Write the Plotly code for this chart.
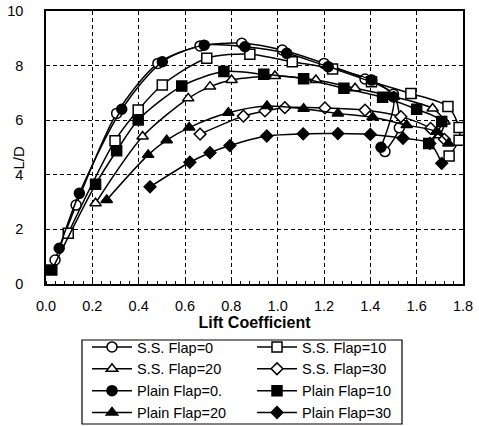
import plotly.graph_objects as go

# ---- data ----
ss0_x = [0.039, 0.13, 0.305, 0.483, 0.665, 0.845, 1.02, 1.20, 1.377, 1.50, 1.525, 1.463]
ss0_y = [0.88, 2.89, 6.25, 8.08, 8.72, 8.82, 8.57, 8.08, 7.51, 6.95, 5.72, 4.85]

ss10_x = [0.096, 0.298, 0.398, 0.502, 0.694, 0.88, 1.063, 1.237, 1.405, 1.575, 1.735, 1.783, 1.783, 1.74]
ss10_y = [1.86, 5.25, 6.37, 7.29, 8.27, 8.42, 8.14, 7.88, 7.41, 6.98, 6.50, 5.73, 5.27, 4.69]

ss20_x = [0.214, 0.417, 0.614, 0.708, 0.801, 0.988, 1.165, 1.334, 1.502, 1.669, 1.72, 1.70]
ss20_y = [2.96, 5.40, 6.80, 7.23, 7.47, 7.62, 7.47, 7.17, 6.86, 6.43, 5.95, 5.45]

ss30_x = [0.665, 0.852, 0.945, 1.031, 1.204, 1.377, 1.532, 1.66, 1.72]
ss30_y = [5.49, 6.15, 6.34, 6.46, 6.45, 6.37, 6.13, 5.70, 5.30]

pl0_x = [0.057, 0.144, 0.327, 0.502, 0.683, 0.859, 1.039, 1.218, 1.406, 1.50, 1.446]
pl0_y = [1.31, 3.32, 6.40, 8.14, 8.75, 8.69, 8.45, 7.96, 7.47, 6.85, 5.01]

pl10_x = [0.025, 0.214, 0.305, 0.398, 0.586, 0.768, 0.940, 1.112, 1.286, 1.453, 1.60, 1.708, 1.652]
pl10_y = [0.51, 3.65, 4.88, 6.01, 7.25, 7.78, 7.68, 7.52, 7.17, 6.84, 6.40, 5.95, 5.15]

pl20_x = [0.262, 0.441, 0.521, 0.618, 0.787, 0.954, 1.112, 1.260, 1.41, 1.557, 1.686, 1.737]
pl20_y = [3.08, 4.73, 5.27, 5.73, 6.27, 6.52, 6.42, 6.25, 6.11, 5.82, 5.58, 5.15]

pl30_x = [0.449, 0.621, 0.708, 0.794, 0.953, 1.11, 1.26, 1.40, 1.541, 1.657, 1.708]
pl30_y = [3.56, 4.46, 4.81, 5.07, 5.42, 5.50, 5.51, 5.48, 5.34, 5.15, 4.42]

series = [
    ("S.S. Flap=0", ss0_x, ss0_y, "circle-open", 10),
    ("S.S. Flap=10", ss10_x, ss10_y, "square-open", 10),
    ("S.S. Flap=20", ss20_x, ss20_y, "triangle-up-open", 10),
    ("S.S. Flap=30", ss30_x, ss30_y, "diamond-open", 9),
    ("Plain Flap=0.", pl0_x, pl0_y, "circle", 10),
    ("Plain Flap=10", pl10_x, pl10_y, "square", 10),
    ("Plain Flap=20", pl20_x, pl20_y, "triangle-up", 10),
    ("Plain Flap=30", pl30_x, pl30_y, "diamond", 9),
]

x_ticks = [0.0, 0.2, 0.4, 0.6, 0.8, 1.0, 1.2, 1.4, 1.6, 1.8]
x_tick_labels = ["0.0", "0.2", "0.4", "0.6", "0.8", "1.0", "1.2", "1.4", "1.6", "1.8"]
y_ticks = [0, 2, 4, 6, 8, 10]

fig = go.Figure()
for name, xs, ys, sym, sz in series:
    openm = sym.endswith("-open")
    fig.add_trace(go.Scatter(
        x=xs, y=ys, name=name, mode="lines+markers",
        line=dict(color="black", width=1.5, shape="spline", smoothing=0.8),
        marker=dict(symbol=sym.replace("-open", ""), size=sz,
                    color="white" if openm else "black",
                    line=dict(color="black", width=1.5)),
        cliponaxis=False,
    ))

W, H = 479, 426
L, R, T, B = 46, 16, 11, 142
PW, PH = W - L - R, H - T - B


def px_x(p):  # page pixel -> paper x
    return (p - L) / PW


def px_y(p):  # page pixel -> paper y
    return (H - B - p) / PH


font = "Liberation Sans, Arial, sans-serif"
fig.update_layout(
    width=W, height=H,
    margin=dict(l=L, r=R, t=T, b=B, autoexpand=False),
    paper_bgcolor="white", plot_bgcolor="white",
    font=dict(family=font, size=14, color="black"),
    showlegend=True,
    legend=dict(
        orientation="h", x=87 / W, y=1 - 331 / H,
        xref="container", yref="container",
        xanchor="left", yanchor="top",
        entrywidth=110, entrywidthmode="pixels",
        borderwidth=0, bgcolor="rgba(0,0,0,0)",
        font=dict(family=font, size=14.5, color="black"),
        tracegroupgap=0, itemwidth=40,
    ),
    shapes=[dict(type="rect", xref="paper", yref="paper",
                 x0=px_x(82), x1=px_x(402), y0=px_y(424), y1=px_y(340),
                 line=dict(color="black", width=1.2), fillcolor="rgba(0,0,0,0)")],
    annotations=[dict(text="L/D", textangle=-90, showarrow=False,
                      xref="paper", yref="paper", x=px_x(17.5), y=px_y(157),
                      xanchor="center", yanchor="middle", font=dict(size=15))],
    xaxis=dict(
        range=[0, 1.8], tickvals=x_ticks, ticktext=x_tick_labels,
        showgrid=True, gridcolor="black", griddash="4px,3px", gridwidth=1,
        showline=True, linecolor="black", linewidth=1.5, mirror=True,
        ticks="outside", ticklen=8, tickcolor="white", zeroline=False,
        minor=dict(dtick=0.04, ticks="inside", ticklen=3, tickcolor="black", showgrid=False),
        tickfont=dict(size=14.5),
        title=dict(text="<b>Lift Coefficient</b>", font=dict(size=16), standoff=5),
    ),
    yaxis=dict(
        range=[0, 10], tickvals=y_ticks,
        showgrid=True, gridcolor="black", griddash="4px,3px", gridwidth=1,
        showline=True, linecolor="black", linewidth=1.5, mirror=True,
        ticks="outside", ticklen=18, tickcolor="white", zeroline=False,
        tickfont=dict(size=14.5),
    ),
)

fig.write_html("out.html", config={"displayModeBar": False},
               post_script="document.body.style.margin='0';")
